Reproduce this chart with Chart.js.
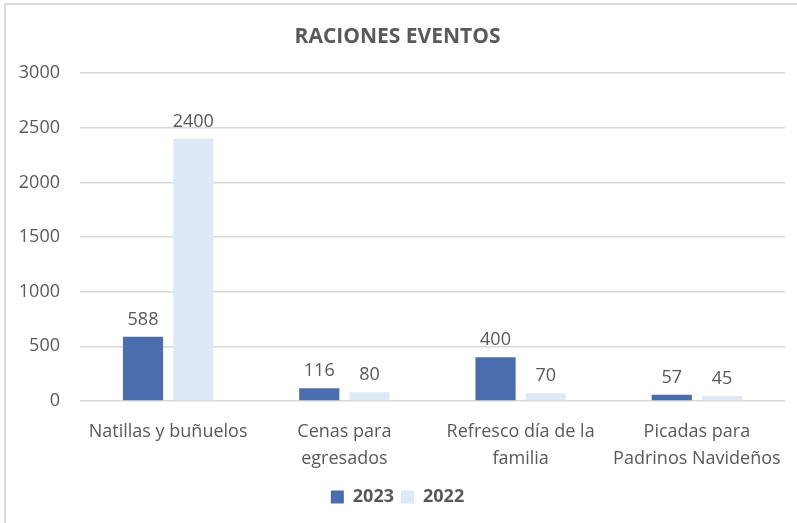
<!DOCTYPE html>
<html>
<head>
<meta charset="utf-8">
<script src="https://cdn.jsdelivr.net/npm/chart.js@4.4.0/dist/chart.umd.min.js"></script>
<style>
  html, body { margin: 0; padding: 0; background: #fff; }
  #frame {
    position: absolute; left: 4px; top: 3px; width: 797px; height: 523px;
    border-top: 2px solid #d9d9d9; border-left: 2px solid #d9d9d9;
  }
  #wrap { position: absolute; left: 0; top: 0; width: 797px; height: 523px; }
</style>
</head>
<body>
<div id="frame"></div>
<div id="wrap"><canvas id="barChart"></canvas></div>
<script>
// Raciones por evento

const categorias = [
  ['Natillas y buñuelos'],
  ['Cenas para', 'egresados'],
  ['Refresco día de la', 'familia'],
  ['Picadas para', 'Padrinos Navideños'],
];

const raciones2023 = [588, 116, 400, 57];
const raciones2022 = [2400, 80, 70, 45];

const textColor = '#595959';
const fontFamily = "'Open Sans', sans-serif";

// etiquetas de valor encima de cada barra
const valueLabels = {
  id: 'valueLabels',
  afterDatasetsDraw(chart) {
    const ctx = chart.ctx;
    ctx.save();
    ctx.fillStyle = textColor;
    ctx.font = '18px ' + fontFamily;
    ctx.textAlign = 'center';
    ctx.textBaseline = 'bottom';
    chart.data.datasets.forEach((ds, i) => {
      chart.getDatasetMeta(i).data.forEach((bar, j) => {
        ctx.fillText(ds.data[j], bar.x, bar.y - 8);
      });
    });
    ctx.restore();
  }
};

const barChart = document.getElementById('barChart');

const myBarChart = new Chart(barChart, {
  type: 'bar',
  data: {
    labels: categorias,
    datasets: [
      {
        label: '2023',
        data: raciones2023,
        backgroundColor: '#4a6dae',
        barPercentage: 0.8,
        categoryPercentage: 0.57,
      },
      {
        label: '2022',
        data: raciones2022,
        backgroundColor: '#dde9f6',
        barPercentage: 0.8,
        categoryPercentage: 0.57,
      },
    ],
  },
  options: {
    responsive: true,
    maintainAspectRatio: false,
    animation: false,
    layout: { padding: { left: 10, right: 12, top: 16, bottom: 7 } },
    plugins: {
      title: {
        display: true,
        text: 'RACIONES EVENTOS',
        color: textColor,
        font: { family: fontFamily, size: 21, weight: 'bold' },
        padding: { top: 8, bottom: 24 },
      },
      legend: {
        position: 'bottom',
        labels: {
          color: textColor,
          font: { family: fontFamily, size: 18, weight: 'bold' },
          boxWidth: 13,
          boxHeight: 13,
          padding: 7,
        },
      },
      tooltip: { enabled: false },
    },
    scales: {
      x: {
        grid: { display: false },
        border: { display: false },
        ticks: {
          color: textColor,
          font: { family: fontFamily, size: 18, lineHeight: 1.5 },
          maxRotation: 0,
          padding: 9,
        },
      },
      y: {
        min: 0,
        max: 3000,
        ticks: {
          stepSize: 500,
          color: textColor,
          font: { family: fontFamily, size: 18 },
          padding: 20,
          callback: (v) => String(v),
        },
        grid: { color: '#d9d9d9', lineWidth: 1.5, drawTicks: false },
        border: { display: false },
        afterFit(scale) { scale.width = 70; },
      },
    },
  },
  plugins: [valueLabels],
});
</script>
</body>
</html>
